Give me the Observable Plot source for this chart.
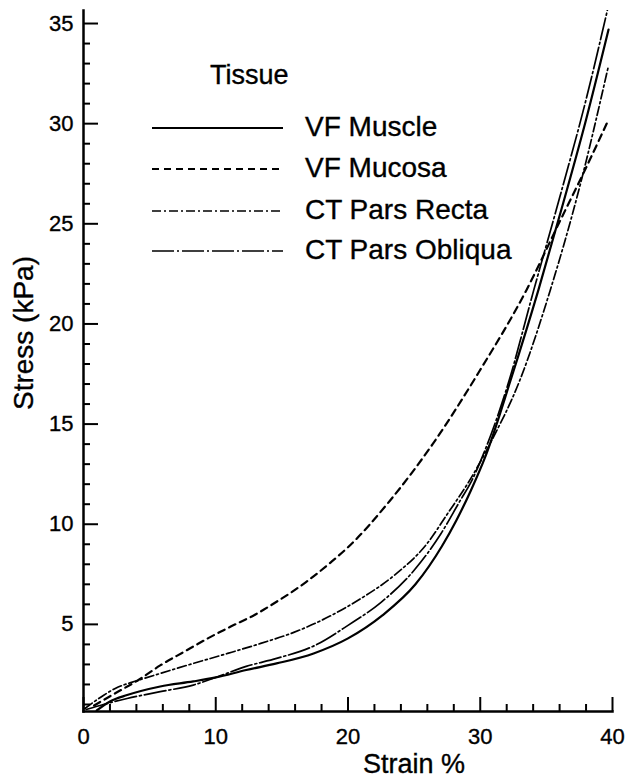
<!DOCTYPE html>
<html><head><meta charset="utf-8">
<script src="https://cdn.jsdelivr.net/npm/d3@7"></script>
<script src="https://cdn.jsdelivr.net/npm/@observablehq/plot@0.6"></script>
<style>
html,body{margin:0;padding:0;background:#fff;}
#wrap{position:relative;width:627px;height:780px;font-family:"Liberation Sans",Arial,Helvetica,sans-serif;}
#legend{position:absolute;left:0;top:0;pointer-events:none;}
#wrap svg text{stroke:#000;stroke-width:0.35px;}
</style></head><body><div id="wrap"></div>
<script>
// ---- data ----
const seriesNames = ["VF Muscle", "VF Mucosa", "CT Pars Recta", "CT Pars Obliqua"];
const legendTitle = "Tissue";
const xLabel = "Strain %";
const yLabel = "Stress (kPa)";

const muscleStrain = [1.0, 2.0, 3.3, 5.8, 8.3, 10.0, 12.3, 14.6, 17.4, 20.0, 22.6, 25.1, 27.1, 28.2, 29.3, 30.4, 32.3, 34.4, 36.0, 38.0, 39.7];
const muscleStress = [0.7, 1.15, 1.47, 1.9, 2.15, 2.35, 2.72, 3.05, 3.55, 4.3, 5.45, 7.0, 8.9, 10.2, 11.7, 13.4, 17.2, 21.7, 25.4, 30.2, 34.7];

const mucosaStrain = [0.8, 2.4, 4.1, 5.8, 7.6, 9.4, 11.1, 12.9, 14.6, 16.8, 18.7, 20.0, 23.2, 26.4, 29.9, 33.5, 36.0, 38.0, 39.7];
const mucosaStress = [0.95, 1.56, 2.2, 2.95, 3.63, 4.3, 4.88, 5.46, 6.13, 7.1, 8.1, 8.85, 11.2, 14.0, 17.6, 21.7, 25.1, 27.8, 30.2];

const rectaStrain = [0.1, 1.5, 2.4, 4.1, 5.8, 8.3, 10.9, 13.4, 15.9, 18.6, 21.0, 23.5, 26.0, 27.5, 29.3, 30.8, 33.0, 35.3, 37.5, 39.7];
const rectaStress = [0.8, 1.45, 1.8, 2.2, 2.55, 3.05, 3.55, 4.05, 4.6, 5.4, 6.3, 7.45, 9.05, 10.5, 12.3, 14.1, 17.2, 21.7, 26.8, 32.9];

const obliquaStrain = [0.2, 1.5, 3.3, 5.8, 8.3, 10.0, 12.3, 14.6, 17.5, 20.0, 22.5, 25.0, 27.0, 28.5, 29.3, 30.3, 32.1, 34.05, 36.0, 38.0, 39.8];
const obliquaStress = [0.75, 1.0, 1.3, 1.64, 1.97, 2.35, 2.9, 3.3, 3.95, 4.95, 6.1, 7.7, 9.5, 11.2, 12.1, 13.6, 17.0, 21.7, 26.3, 31.2, 36.2];

const xMajorTicks = [0, 10, 20, 30, 40];
const xMinorTicks = [2, 4, 6, 8, 12, 14, 16, 18, 22, 24, 26, 28, 32, 34, 36, 38];
const yMajorTicks = [5, 10, 15, 20, 25, 30, 35];
const yMinorTicks = [1, 2, 3, 4, 6, 7, 8, 9, 11, 12, 13, 14, 16, 17, 18, 19, 21, 22, 23, 24, 26, 27, 28, 29, 31, 32, 33, 34];

// ---- build ----
const strains = [muscleStrain, mucosaStrain, rectaStrain, obliquaStrain];
const stresses = [muscleStress, mucosaStress, rectaStress, obliquaStress];
const styles = [
  {strokeWidth: 2.2, strokeDasharray: null},
  {strokeWidth: 2.2, strokeDasharray: "7,5"},
  {strokeWidth: 1.7, strokeDasharray: "9,3,2,3"},
  {strokeWidth: 1.7, strokeDasharray: "22,3,2,3"}
];
const rows = seriesNames.flatMap((name, i) =>
  strains[i].map((s, j) => ({series: name, strain: s, stress: stresses[i][j]})));

const W = 627, H = 780;
const fontFamily = '"Liberation Sans", Arial, Helvetica, sans-serif';

const chart = Plot.plot({
  width: W, height: H,
  marginTop: 10, marginRight: 15, marginBottom: 69, marginLeft: 83,
  style: {fontFamily, color: "#000", background: "#fff"},
  x: {domain: [0, 40], label: null},
  y: {domain: [0.65, 35.65], label: null},
  marks: [
    ...seriesNames.map((name, i) => Plot.line(rows.filter(d => d.series === name), {
      x: "strain", y: "stress", curve: "monotone-x", stroke: "#000",
      strokeWidth: styles[i].strokeWidth, strokeDasharray: styles[i].strokeDasharray,
      clip: true
    })),
    Plot.axisX(xMinorTicks, {tickSize: -7, strokeWidth: 2, tickFormat: () => "", label: null}),
    Plot.axisX(xMajorTicks, {tickSize: -14, tickPadding: 31, strokeWidth: 2, fontSize: 22, label: null}),
    Plot.axisY(yMinorTicks, {tickSize: -7, strokeWidth: 2, tickFormat: () => "", label: null}),
    Plot.axisY(yMajorTicks, {tickSize: -15, tickPadding: 25, strokeWidth: 2, fontSize: 22, label: null}),
    Plot.frame({anchor: "left", strokeWidth: 2.5}),
    Plot.frame({anchor: "bottom", strokeWidth: 2.5}),
    Plot.text([xLabel], {frameAnchor: "bottom", textAnchor: "middle", lineAnchor: "middle", dx: 66, dy: 53, fontSize: 27, text: d => d}),
    Plot.text([yLabel], {frameAnchor: "left", textAnchor: "middle", lineAnchor: "middle", dx: -59, dy: -28, rotate: -90, fontSize: 28, text: d => d})
  ]
});

const wrap = document.getElementById("wrap");
wrap.appendChild(chart);

// ---- legend overlay ----
const leg = d3.select(wrap).append("svg")
  .attr("id", "legend").attr("width", W).attr("height", 300)
  .style("font-family", fontFamily);
leg.append("text").attr("x", 210).attr("y", 77).attr("dominant-baseline", "middle")
  .attr("font-size", 27).text(legendTitle);
const rowY = [128, 169, 211, 251];
seriesNames.forEach((name, i) => {
  leg.append("line").attr("x1", 152).attr("x2", 283).attr("y1", rowY[i]).attr("y2", rowY[i])
    .attr("stroke", "#000").attr("stroke-width", styles[i].strokeWidth)
    .attr("stroke-dasharray", styles[i].strokeDasharray);
  leg.append("text").attr("x", 305).attr("y", rowY[i] + 1).attr("dominant-baseline", "middle")
    .attr("font-size", 28).text(name);
});
</script>
</body></html>
